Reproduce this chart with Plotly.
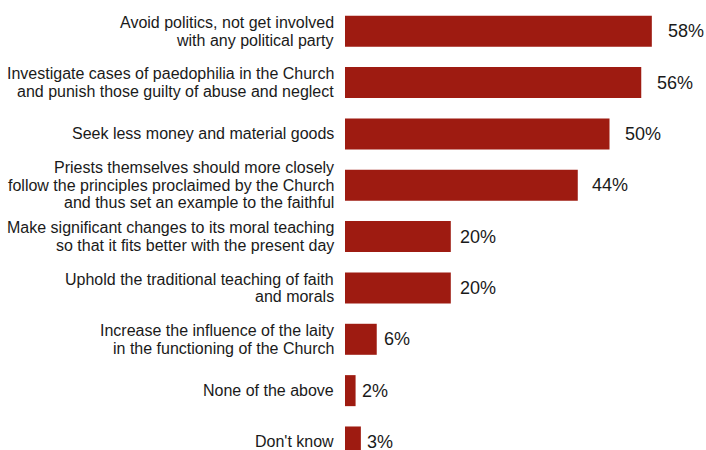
import plotly.graph_objects as go

categories = [
    ["Avoid politics, not get involved", "with any political party"],
    ["Investigate cases of paedophilia in the Church", "and punish those guilty of abuse and neglect"],
    ["Seek less money and material goods"],
    ["Priests themselves should more closely", "follow the principles proclaimed by the Church", "and thus set an example to the faithful"],
    ["Make significant changes to its moral teaching", "so that it fits better with the present day"],
    ["Uphold the traditional teaching of faith", "and morals"],
    ["Increase the influence of the laity", "in the functioning of the Church"],
    ["None of the above"],
    ["Don't know"],
]
values = [58, 56, 50, 44, 20, 20, 6, 2, 3]
value_labels = ["58%", "56%", "50%", "44%", "20%", "20%", "6%", "2%", "3%"]

BAR_COLOR = "#9E1B11"
TEXT_COLOR = "#1a1a1a"
FONT = "Liberation Sans, Arial, sans-serif"
LINE_STEP = 17.7
LABEL_SCALE = 1.034

positions = list(range(len(values)))

fig = go.Figure(
    go.Bar(
        x=values,
        y=positions,
        orientation="h",
        marker=dict(color=BAR_COLOR, line=dict(width=0)),
        width=0.604,
        hoverinfo="skip",
    )
)

annotations = []
for i, lines in enumerate(categories):
    n = len(lines)
    for k, line in enumerate(lines):
        annotations.append(dict(
            xref="paper", yref="y", x=0, y=i,
            text=line, showarrow=False,
            xanchor="right", yanchor="middle",
            xshift=-9, yshift=-(k - (n - 1) / 2) * LINE_STEP,
            font=dict(family=FONT, size=16, color=TEXT_COLOR),
        ))
for i, (v, lab) in enumerate(zip(values, value_labels)):
    annotations.append(dict(
        xref="x", yref="y", x=v * LABEL_SCALE, y=i,
        text=lab, showarrow=False,
        xanchor="left", yanchor="middle",
        xshift=4,
        font=dict(family=FONT, size=18, color=TEXT_COLOR),
    ))

fig.update_layout(
    width=706, height=450,
    margin=dict(l=345, r=0, t=0, b=0),
    paper_bgcolor="white", plot_bgcolor="white",
    showlegend=False,
    font=dict(family=FONT, color=TEXT_COLOR),
    xaxis=dict(range=[0, 68.24], visible=False, fixedrange=True),
    yaxis=dict(range=[8.156, -0.6076], visible=False, fixedrange=True),
    annotations=annotations,
)

fig.write_html("out.html")
